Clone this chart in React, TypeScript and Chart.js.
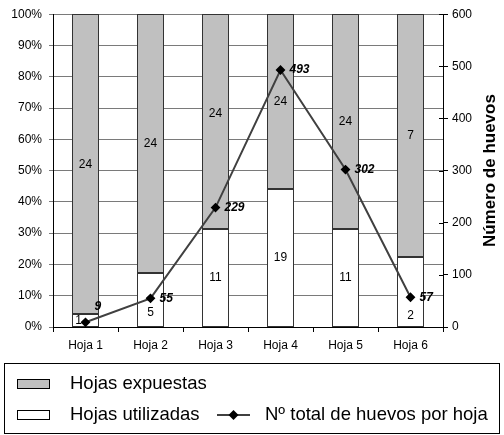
import React, { useEffect, useRef } from "react";
import { Chart, registerables } from "chart.js";

Chart.register(...registerables);

const categories = ["Hoja 1", "Hoja 2", "Hoja 3", "Hoja 4", "Hoja 5", "Hoja 6"];
const hojasUtilizadas = [1, 5, 11, 19, 11, 2];
const hojasExpuestas = [24, 24, 24, 24, 24, 7];
const huevosPorHoja = [9, 55, 229, 493, 302, 57];
const percentTickStep = 10;
const huevosTickStep = 100;
const huevosMax = 600;

const FONT = '"Liberation Sans", Arial, Helvetica, sans-serif';

const totals = hojasUtilizadas.map((u, i) => u + hojasExpuestas[i]);
const pctUtilizadas = hojasUtilizadas.map((u, i) => (u / totals[i]) * 100);
const pctExpuestas = hojasExpuestas.map((e, i) => (e / totals[i]) * 100);

// small manual label nudges (style only), [dx, dy] per dataset / bar
const NUDGE: number[][][] = [
  [[-7, 0], [0, 13], [0, 0], [0, 0], [0, 0], [0, 24]],
  [[0, 0], [0, 0], [0, -8], [0, 0], [0, 0], [0, 0]],
];

const customPlugin = {
  id: "customDraw",
  beforeDatasetDraw(chart: any, args: any) {
    if (args.index !== 2) return;
    const ctx = chart.ctx;
    ctx.save();
    ctx.strokeStyle = "#333";
    ctx.lineWidth = 1;
    [0, 1].forEach((di) => {
      const meta = chart.getDatasetMeta(di);
      meta.data.forEach((bar: any) => {
        const p = bar.getProps(["x", "y", "base", "width"], true);
        const l = Math.round(p.x - p.width / 2) + 0.5;
        const r = Math.round(p.x + p.width / 2) - 0.5;
        const t = Math.round(Math.min(p.y, p.base)) + 0.5;
        const b = Math.round(Math.max(p.y, p.base)) - 0.5;
        ctx.strokeRect(l, t, r - l, b - t);
      });
    });
    ctx.restore();
  },
  afterDatasetsDraw(chart: any) {
    const ctx = chart.ctx;
    ctx.save();
    ctx.fillStyle = "#000";
    ctx.font = `12px ${FONT}`;
    ctx.textAlign = "center";
    ctx.textBaseline = "middle";
    const raws = [hojasUtilizadas, hojasExpuestas];
    [0, 1].forEach((di) => {
      const meta = chart.getDatasetMeta(di);
      meta.data.forEach((bar: any, i: number) => {
        const p = bar.getProps(["x", "y", "base"], true);
        const [dx, dy] = NUDGE[di][i];
        ctx.fillText(String(raws[di][i]), p.x + dx, (p.y + p.base) / 2 + dy);
      });
    });
    ctx.font = `italic bold 12px ${FONT}`;
    ctx.textAlign = "left";
    const lm = chart.getDatasetMeta(2);
    lm.data.forEach((pt: any, i: number) => {
      const dy = i === 0 ? -16 : 0;
      ctx.fillText(String(huevosPorHoja[i]), pt.x + 9, pt.y + dy);
    });
    ctx.restore();
  },
  afterDraw(chart: any) {
    const ctx = chart.ctx;
    const area = chart.chartArea;
    ctx.save();
    // inner halves of right axis tick marks (they cross the axis)
    const y1 = chart.scales.y1;
    ctx.strokeStyle = "#000";
    ctx.lineWidth = 1;
    y1.ticks.forEach((t: any) => {
      const yy = Math.round(y1.getPixelForValue(t.value)) + 0.5;
      ctx.beginPath();
      ctx.moveTo(area.right - 4, yy);
      ctx.lineTo(area.right, yy);
      ctx.stroke();
    });
    ctx.restore();

    ctx.save();
    // right axis title (reads bottom-to-top)
    ctx.fillStyle = "#000";
    ctx.font = `bold 17px ${FONT}`;
    ctx.textAlign = "center";
    ctx.textBaseline = "middle";
    ctx.translate(490, (area.top + area.bottom) / 2);
    ctx.rotate(-Math.PI / 2);
    ctx.fillText("Número de huevos", 0, 0);
    ctx.restore();

    // legend
    ctx.save();
    ctx.strokeStyle = "#000";
    ctx.lineWidth = 1;
    ctx.strokeRect(4.5, 363.5, 495, 70);
    ctx.fillStyle = "#c0c0c0";
    ctx.fillRect(17.5, 379.5, 32, 9);
    ctx.strokeRect(17.5, 379.5, 32, 9);
    ctx.fillStyle = "#fff";
    ctx.fillRect(17.5, 410.5, 32, 9);
    ctx.strokeRect(17.5, 410.5, 32, 9);
    ctx.beginPath();
    ctx.moveTo(217, 415);
    ctx.lineTo(250, 415);
    ctx.lineWidth = 1.5;
    ctx.stroke();
    ctx.fillStyle = "#000";
    ctx.beginPath();
    ctx.moveTo(233.5, 410);
    ctx.lineTo(238.5, 415);
    ctx.lineTo(233.5, 420);
    ctx.lineTo(228.5, 415);
    ctx.closePath();
    ctx.fill();
    ctx.font = `18.5px ${FONT}`;
    ctx.textAlign = "left";
    ctx.textBaseline = "middle";
    ctx.fillText("Hojas expuestas", 70, 384);
    ctx.fillText("Hojas utilizadas", 70, 415);
    ctx.fillText("Nº total de huevos por hoja", 265, 415);
    ctx.restore();
  },
};

export default function App() {
  const ref = useRef<HTMLCanvasElement | null>(null);
  useEffect(() => {
    document.body.style.margin = "0";
    document.body.style.overflow = "hidden";
    const canvas = ref.current;
    if (!canvas) return;
    const barOpts = {
      borderWidth: 0,
      yAxisID: "y",
      stack: "s",
      order: 2,
      barPercentage: 27 / 65,
      categoryPercentage: 1,
    };
    const chart = new Chart(canvas, {
      type: "bar",
      data: {
        labels: categories,
        datasets: [
          {
            type: "bar",
            label: "Hojas utilizadas",
            data: pctUtilizadas,
            backgroundColor: "#ffffff",
            ...barOpts,
          } as any,
          {
            type: "bar",
            label: "Hojas expuestas",
            data: pctExpuestas,
            backgroundColor: "#c0c0c0",
            ...barOpts,
          } as any,
          {
            type: "line",
            label: "Nº total de huevos por hoja",
            data: huevosPorHoja,
            borderColor: "#404040",
            borderWidth: 2,
            pointStyle: "rectRot",
            pointRadius: 3.5,
            pointBackgroundColor: "#000",
            pointBorderColor: "#000",
            yAxisID: "y1",
            order: 1,
            tension: 0,
          } as any,
        ],
      },
      options: {
        responsive: false,
        animation: false,
        layout: { padding: { top: 13, left: 0, right: 0, bottom: 0 } },
        plugins: { legend: { display: false }, tooltip: { enabled: false } },
        scales: {
          x: {
            stacked: true,
            grid: {
              offset: true,
              drawOnChartArea: false,
              drawTicks: true,
              tickLength: 5,
              color: "#000",
            },
            border: { display: true, color: "#000" },
            ticks: { color: "#000", font: { size: 12, family: FONT }, padding: 6, maxRotation: 0 },
            afterFit: (s: any) => {
              s.height = 108;
            },
          },
          y: {
            stacked: true,
            position: "left",
            min: 0,
            max: 100,
            ticks: {
              stepSize: percentTickStep,
              color: "#000",
              font: { size: 12, family: FONT },
              padding: 7,
              callback: (v: any) => v + "%",
            },
            grid: { color: "#7a7a7a", tickLength: 4 },
            border: { display: true, color: "#000" },
            afterFit: (s: any) => {
              s.width = 53;
            },
          },
          y1: {
            position: "right",
            min: 0,
            max: huevosMax,
            ticks: {
              stepSize: huevosTickStep,
              color: "#000",
              font: { size: 12, family: FONT },
              padding: 4,
            },
            grid: { drawOnChartArea: false, tickLength: 5, color: "#000" },
            border: { display: true, color: "#000" },
            afterFit: (s: any) => {
              s.width = 61;
            },
          },
        },
      } as any,
      plugins: [customPlugin],
    });
    return () => chart.destroy();
  }, []);
  return <canvas ref={ref} width={504} height={435} style={{ display: "block" }} />;
}
